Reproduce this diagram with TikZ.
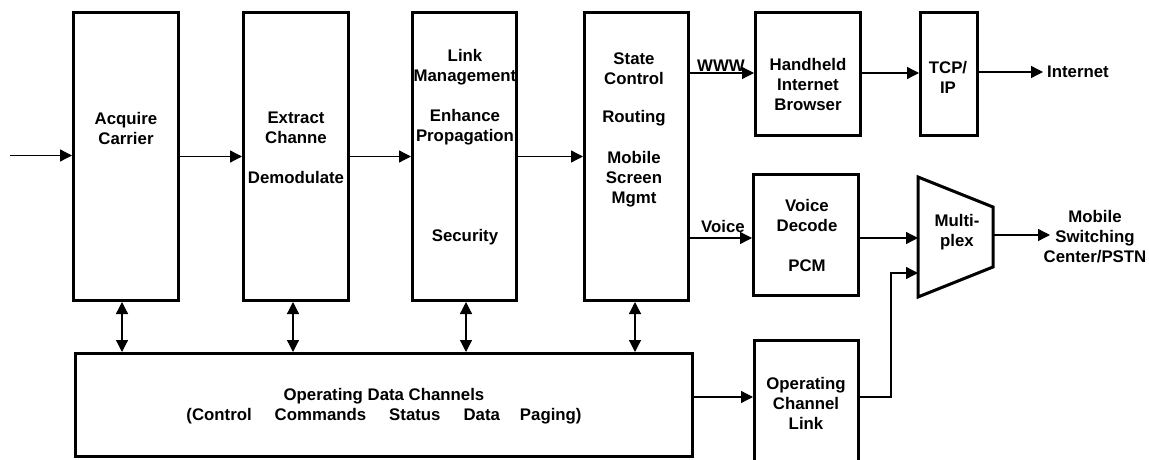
\documentclass[tikz,border=0pt]{standalone}
\usepackage{fontspec}
\setmainfont{Liberation Sans}
\usetikzlibrary{arrows.meta}
\begin{document}
\begin{tikzpicture}[x=1pt,y=-1pt,
  box/.style={draw, line width=3pt, inner sep=0pt, anchor=north west},
  lbl/.style={font=\fontsize{16.8}{20}\selectfont\bfseries, align=center, inner sep=0pt},
  arr/.style={line width=1.3pt, -{Triangle[length=12pt,width=12pt]}},
  darr/.style={line width=1.3pt, {Triangle[length=12pt,width=12pt]}-{Triangle[length=12pt,width=12pt]}}
]
\useasboundingbox (0,0) rectangle (1149,460);
\clip (0,0) rectangle (1149,460);

% boxes (outer corner, outer size)
\node[box, minimum width=105pt, minimum height=288pt] (acq) at (72,11) {};
\node[box, minimum width=105pt, minimum height=288pt] (ext) at (242,11) {};
\node[box, minimum width=104pt, minimum height=288pt] (lnk) at (411,11) {};
\node[box, minimum width=104pt, minimum height=288pt] (st) at (583,11) {};
\node[box, minimum width=105pt, minimum height=123pt] (hb) at (754,11) {};
\node[box, minimum width=57pt, minimum height=123pt] (tcp) at (919,11) {};
\node[box, minimum width=105pt, minimum height=121pt] (vd) at (752,173) {};
\node[box, minimum width=617pt, minimum height=103pt] (odc) at (74,352) {};
\node[box, minimum width=104pt, minimum height=125pt] (ocl) at (753,339) {};

% multiplexer
\coordinate (m1) at (918,177);
\coordinate (m2) at (993,207);
\coordinate (m3) at (993,267);
\coordinate (m4) at (918,297);
\draw[line width=3pt, line join=miter] (m1) -- (m2) -- (m3) -- (m4) -- cycle;

% texts
\node[lbl] (tacq) at (126,128) {Acquire\\Carrier};
\node[lbl] (text) at (296,148) {Extract\\Channe\\[20pt]Demodulate};
\node[lbl] (tl1) at (465,67.5) {Link\\Management};
\node[lbl] (tl2) at (465,127.5) {Enhance\\Propagation};
\node[lbl] (tl3) at (465,237) {Security};
\node[lbl] (ts1) at (634,69) {State\\Control};
\node[lbl] (ts2) at (634,118) {Routing};
\node[lbl] (ts3) at (634,179) {Mobile\\Screen\\Mgmt};
\node[lbl] (thb) at (808,84) {Handheld\\Internet\\Browser};
\node[lbl] (ttcp) at (948,77) {TCP/\\IP};
\node[lbl] (tvd) at (807,235.5) {Voice\\Decode\\[20pt]PCM};
\node[lbl] (tmux) at (957,232) {Multi-\\plex};
\node[lbl] (msc) at (1095,237) {Mobile\\Switching\\Center/PSTN};
\node[lbl] (tocl) at (806,403) {Operating\\Channel\\Link};
\node[lbl] (todc) at (384,406) {Operating Data Channels\\(Control\hspace{23pt}Commands\hspace{23pt}Status\hspace{23pt}Data\hspace{20pt}Paging)};
\node[lbl, anchor=west, inner xsep=4pt] (inet) at (1043,72) {Internet};
\node[lbl, anchor=south west] (www) at (697,72) {WWW};
\node[lbl, anchor=south west] (voice) at (701,233) {Voice};

% connectors
\coordinate (in) at (10,155.5);
\draw[arr] (in) -- (in -| acq.west);
\draw[arr] (acq) -- (ext);
\draw[arr] (ext) -- (lnk);
\draw[arr] (lnk) -- (st);
\coordinate (wy) at (0,73);
\draw[arr] (st.east |- wy) -- (hb.west |- wy);
\draw[arr] (hb.east |- wy) -- (tcp.west |- wy);
\draw[arr] (tcp.east |- inet.west) -- (inet.west);
\coordinate (vy) at (0,238);
\coordinate (mx1) at (918,238);
\coordinate (mx2) at (918,273);
\coordinate (mxo) at (993,235);
\coordinate (mscin) at (1050,235);
\draw[arr] (st.east |- vy) -- (vd.west |- vy);
\draw[arr] (vd.east |- mx1) -- (mx1);
\draw[arr] (mxo) -- (mscin);
\coordinate (oy) at (0,397);
\coordinate (bend) at (891,273);
\draw[arr] (odc.east |- oy) -- (ocl.west |- oy);
\draw[arr] (ocl.east |- oy) -| (bend) -- (mx2);

% bidirectional links
\coordinate (a1) at (122,0);
\coordinate (a2) at (293,0);
\coordinate (a3) at (466,0);
\coordinate (a4) at (635,0);
\draw[darr] (acq.south -| a1) -- (odc.north -| a1);
\draw[darr] (ext.south -| a2) -- (odc.north -| a2);
\draw[darr] (lnk.south -| a3) -- (odc.north -| a3);
\draw[darr] (st.south -| a4) -- (odc.north -| a4);
\end{tikzpicture}
\end{document}
